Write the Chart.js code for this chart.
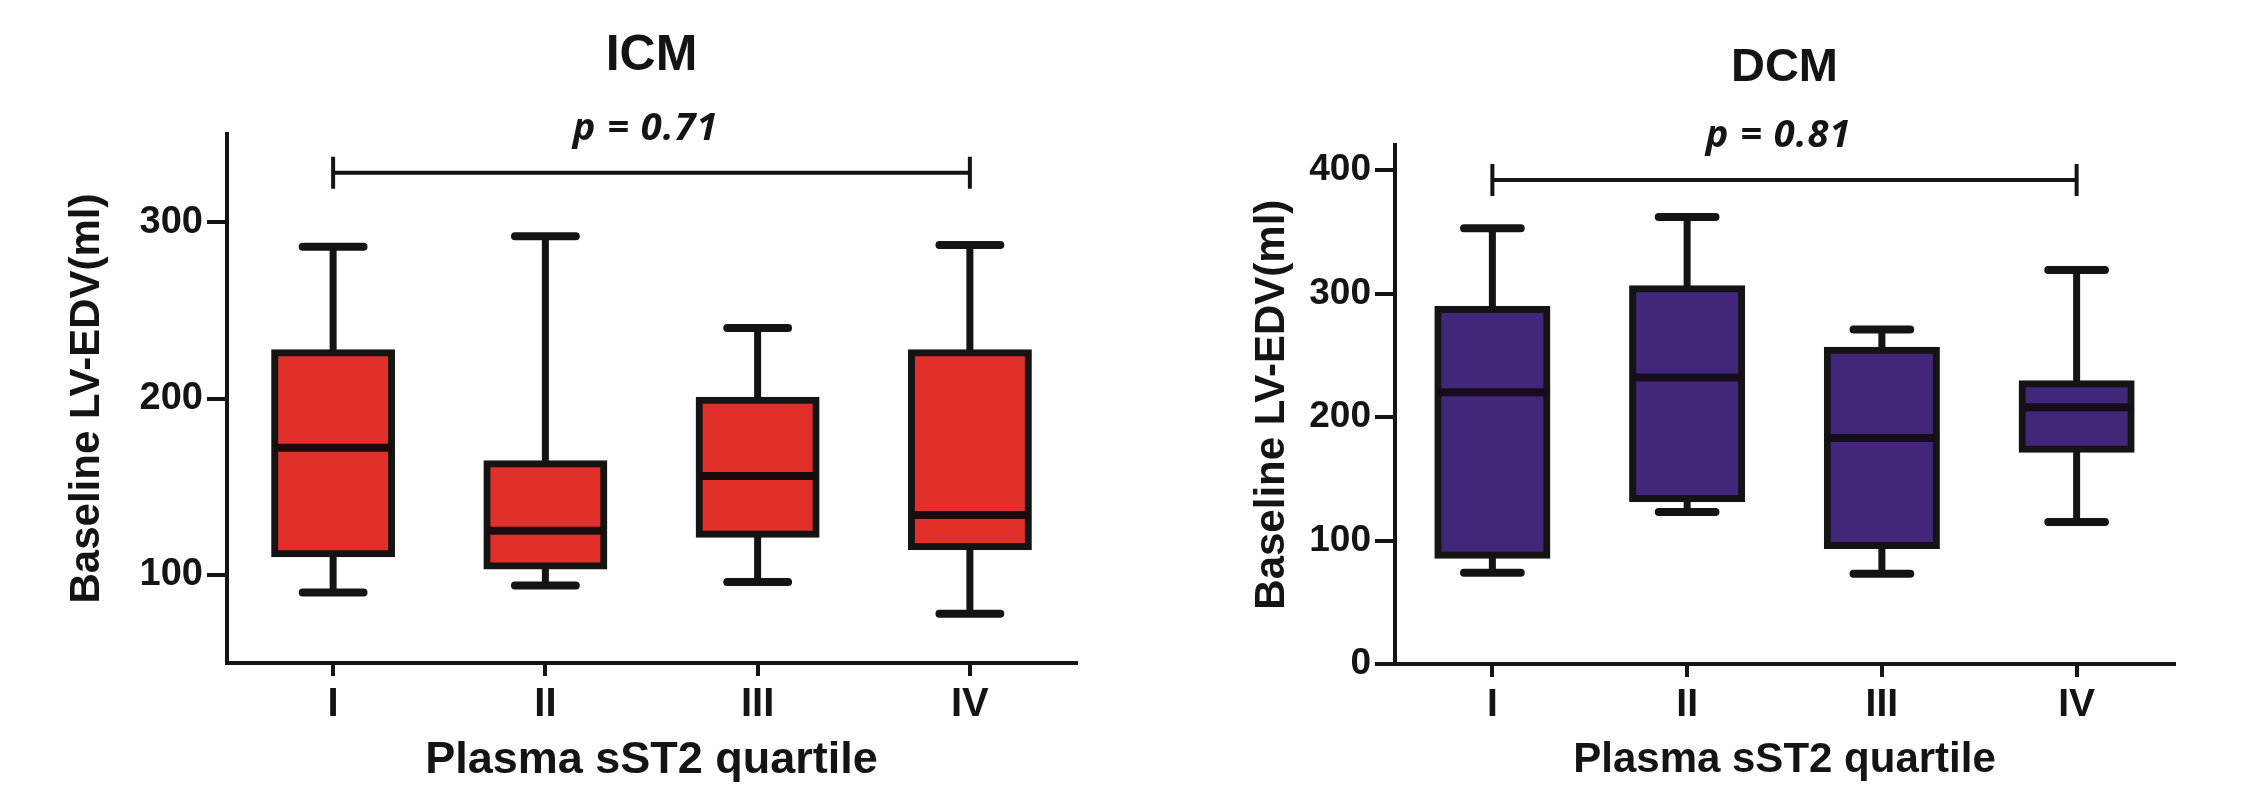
<!DOCTYPE html>
<html>
<head>
<meta charset="utf-8">
<script src="https://cdn.jsdelivr.net/npm/chart.js@4.4.1/dist/chart.umd.min.js"></script>
<style>
html,body{margin:0;padding:0;background:#fff;width:2264px;height:804px;overflow:hidden}
canvas{position:absolute;top:0}
#icm{left:0}
#dcm{left:1132px}
</style>
</head>
<body>
<canvas id="icm" width="1132" height="804"></canvas>
<canvas id="dcm" width="1132" height="804"></canvas>
<script>
// ---- data ----
const categories = ['I', 'II', 'III', 'IV'];

const icmMin    = [90, 94, 96, 78];
const icmQ1     = [112, 105, 123, 116];
const icmMedian = [172, 125, 156, 134];
const icmQ3     = [226, 163, 199, 226];
const icmMax    = [286, 292, 240, 287];
const icmTicks  = [100, 200, 300];
const icmPText  = 'p = 0.71';
const icmBracket = 328;

const dcmMin    = [74, 123, 73, 115];
const dcmQ1     = [88, 134, 96, 174];
const dcmMedian = [220, 232, 183, 208];
const dcmQ3     = [287, 304, 254, 227];
const dcmMax    = [353, 362, 271, 319];
const dcmTicks  = [0, 100, 200, 300, 400];
const dcmPText  = 'p = 0.81';
const dcmBracket = 392;

// ---- styling ----
const FONT = '"Liberation Sans", Arial, Helvetica, sans-serif';
const INK = '#141414';

function boxPlugin(s) {
  return {
    id: 'boxWhisker_' + s.id,
    beforeDatasetsDraw(chart) {
      const ctx = chart.ctx, y = chart.scales.y;
      const meta = chart.getDatasetMeta(0);
      ctx.save();
      ctx.strokeStyle = INK;
      meta.data.forEach((bar, i) => {
        const {x, width} = bar.getProps(['x', 'width'], true);
        ctx.lineCap = 'butt';
        ctx.lineWidth = 7;
        ctx.beginPath();
        ctx.moveTo(x, y.getPixelForValue(s.q3[i]));
        ctx.lineTo(x, y.getPixelForValue(s.max[i]));
        ctx.moveTo(x, y.getPixelForValue(s.q1[i]));
        ctx.lineTo(x, y.getPixelForValue(s.min[i]));
        ctx.stroke();
        const hw = width * 0.26;
        ctx.lineCap = 'round';
        ctx.lineWidth = 8;
        ctx.beginPath();
        [s.max[i], s.min[i]].forEach(v => {
          const py = y.getPixelForValue(v);
          ctx.moveTo(x - hw, py);
          ctx.lineTo(x + hw, py);
        });
        ctx.stroke();
      });
      ctx.restore();
    },
    afterDatasetsDraw(chart) {
      const ctx = chart.ctx, y = chart.scales.y;
      const meta = chart.getDatasetMeta(0);
      ctx.save();
      // medians
      ctx.strokeStyle = s.medianColor;
      ctx.lineWidth = 8;
      ctx.lineCap = 'butt';
      meta.data.forEach((bar, i) => {
        const {x, width} = bar.getProps(['x', 'width'], true);
        const py = y.getPixelForValue(s.median[i]);
        ctx.beginPath();
        ctx.moveTo(x - width / 2, py);
        ctx.lineTo(x + width / 2, py);
        ctx.stroke();
      });
      // significance bracket
      const x1 = meta.data[0].x, x2 = meta.data[meta.data.length - 1].x;
      const by = y.getPixelForValue(s.bracket);
      ctx.strokeStyle = INK;
      ctx.lineWidth = 4;
      ctx.beginPath();
      ctx.moveTo(x1, by); ctx.lineTo(x2, by);
      ctx.moveTo(x1, by - 16); ctx.lineTo(x1, by + 16);
      ctx.moveTo(x2, by - 16); ctx.lineTo(x2, by + 16);
      ctx.stroke();
      // p value text
      ctx.fillStyle = INK;
      ctx.font = 'italic bold 38px "Open Sans", ' + FONT;
      if ('letterSpacing' in ctx) ctx.letterSpacing = '1px';
      ctx.textAlign = 'center';
      ctx.textBaseline = 'alphabetic';
      ctx.fillText(s.pText, (x1 + x2) / 2 - 6, by - 33);
      ctx.restore();
    }
  };
}

function makeChart(s) {
  return new Chart(document.getElementById(s.id), {
    type: 'bar',
    data: {
      labels: categories,
      datasets: [{
        data: categories.map((c, i) => [s.q1[i], s.q3[i]]),
        backgroundColor: s.fill,
        borderColor: INK,
        borderWidth: 7,
        borderSkipped: false,
        inflateAmount: 3.5,
        barPercentage: s.barPct,
        categoryPercentage: 1
      }]
    },
    options: {
      responsive: false,
      animation: false,
      devicePixelRatio: 1,
      events: [],
      layout: {padding: {left: 0, right: s.padRight, top: 0, bottom: 0}},
      plugins: {
        legend: {display: false},
        tooltip: {enabled: false},
        title: {
          display: true,
          text: s.title,
          fullSize: false,
          color: INK,
          font: {family: FONT, size: s.titleSize, weight: 'bold', lineHeight: 1.2},
          padding: {top: s.titlePadTop, bottom: s.titlePadBottom}
        }
      },
      scales: {
        x: {
          type: 'category',
          offset: true,
          grid: {display: true, offset: false, drawOnChartArea: false, drawTicks: true,
                 tickLength: 13, lineWidth: 4, color: INK},
          border: {display: true, width: 4, color: INK},
          ticks: {color: INK, padding: 5,
                  font: {family: FONT, size: s.xTickSize, weight: 'bold', lineHeight: 1.2}},
          title: {display: true, text: 'Plasma sST2 quartile', color: INK,
                  font: {family: FONT, size: s.xTitleSize, weight: 'bold', lineHeight: 1.2},
                  padding: {top: 0, bottom: s.xTitlePad}},
          afterFit(sc) { sc.height = s.xHeight; }
        },
        y: {
          type: 'linear',
          min: s.yMin,
          max: s.yMax,
          afterBuildTicks(sc) { sc.ticks = s.ticks.map(v => ({value: v})); },
          grid: {display: true, drawOnChartArea: false, drawTicks: true,
                 tickLength: 20, lineWidth: 4, color: INK},
          border: {display: true, width: 4, color: INK},
          ticks: {color: INK, padding: 4,
                  font: {family: FONT, size: s.yTickSize, weight: 'bold', lineHeight: 1.2}},
          title: {display: true, text: 'Baseline LV-EDV(ml)', color: INK,
                  font: {family: FONT, size: 42, weight: 'bold', lineHeight: 1.2},
                  padding: {top: s.yTitlePad, bottom: 0}},
          afterFit(sc) { sc.width = s.yWidth; }
        }
      }
    },
    plugins: [boxPlugin(s)]
  });
}

makeChart({
  id: 'icm', title: 'ICM', fill: '#E1302A', medianColor: '#1c0b0b',
  min: icmMin, q1: icmQ1, median: icmMedian, q3: icmQ3, max: icmMax,
  ticks: icmTicks, pText: icmPText, bracket: icmBracket,
  yMin: 50, yMax: 350,
  barPct: 0.551, padRight: 56, yWidth: 227, xHeight: 141,
  titleSize: 50, titlePadTop: 26, titlePadBottom: 48,
  xTickSize: 40, xTitleSize: 45, xTitlePad: 16, yTickSize: 38, yTitlePad: 62
});

makeChart({
  id: 'dcm', title: 'DCM', fill: '#42267A', medianColor: '#160d1c',
  min: dcmMin, q1: dcmQ1, median: dcmMedian, q3: dcmQ3, max: dcmMax,
  ticks: dcmTicks, pText: dcmPText, bracket: dcmBracket,
  yMin: 0, yMax: 420,
  barPct: 0.56, padRight: 90, yWidth: 263, xHeight: 140,
  titleSize: 47, titlePadTop: 40, titlePadBottom: 49,
  xTickSize: 39, xTitleSize: 42, xTitlePad: 18, yTickSize: 37, yTitlePad: 115
});
</script>
</body>
</html>
